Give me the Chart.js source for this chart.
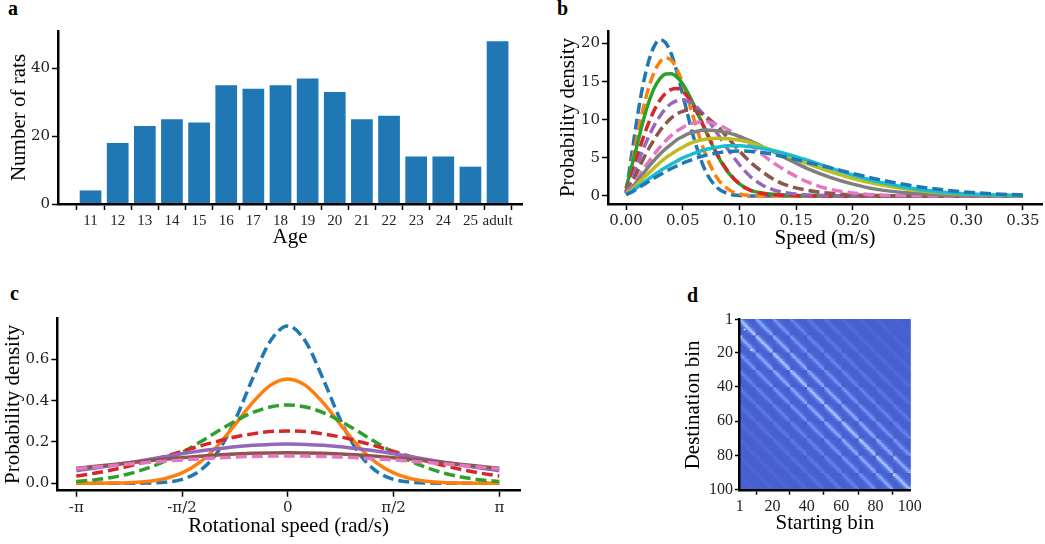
<!DOCTYPE html>
<html lang="en">
<head>
<meta charset="UTF-8">
<title>Ages, speed and rotation distributions, bin transitions</title>
<script src="https://cdn.jsdelivr.net/npm/chart.js"></script>
<style>
  body { margin: 0; background: #fff; width: 1045px; height: 544px; position: relative; overflow: hidden; }
  canvas { position: absolute; }
  .tag { position: absolute; font: bold 20px 'Liberation Serif', serif; line-height: 20px; color: #000; }
</style>
</head>
<body>

<div class="tag" style="left:8px;top:-2px">a</div>
<div class="tag" style="left:557px;top:-2px">b</div>
<div class="tag" style="left:10px;top:283px">c</div>
<div class="tag" style="left:687px;top:285px">d</div>

<canvas id="ages" width="530" height="260" style="left:0;top:0"></canvas>
<canvas id="speed" width="505" height="260" style="left:540px;top:0"></canvas>
<canvas id="rotation" width="540" height="264" style="left:0;top:280px"></canvas>
<canvas id="transitions" width="260" height="264" style="left:670px;top:280px"></canvas>

<script>
// ---- panel a: rats per age ----
const ageLabels = ['11','12','13','14','15','16','17','18','19','20','21','22','23','24','25','adult'];
const ratCounts = [4, 18, 23, 25, 24, 35, 34, 35, 37, 33, 25, 26, 14, 14, 11, 48];
const ratTicks = [0, 20, 40];

// ---- panel b: speed densities ----
const speedX = [0, 0.005, 0.01, 0.015, 0.02, 0.025, 0.03, 0.035, 0.04, 0.045, 0.05, 0.055, 0.06, 0.07, 0.08,
                0.09, 0.10, 0.11, 0.12, 0.13, 0.14, 0.16, 0.18, 0.20, 0.22, 0.25, 0.28, 0.31, 0.35];
const speedBlue   = [0.4, 5.4, 10.4, 14.6, 17.7, 19.7, 20.5, 20.1, 18.6, 16.2, 13.3, 10.3, 7.5, 3.3, 1.15, 0.31, 0.07, 0.01, 0, 0, 0, 0, 0, 0, 0, 0, 0, 0, 0];
const speedOrange = [0.4, 4.1, 8.0, 11.4, 14.2, 16.3, 17.6, 18.1, 17.8, 16.6, 14.8, 12.5, 10.0, 5.5, 2.45, 0.89, 0.26, 0.06, 0.01, 0, 0, 0, 0, 0, 0, 0, 0, 0, 0];
const speedGreen  = [1.0, 3.9, 6.8, 9.8, 12.3, 14.2, 15.4, 16.0, 16.05, 15.6, 14.7, 13.4, 11.9, 8.6, 5.5, 3.1, 1.6, 0.75, 0.4, 0.22, 0.13, 0.05, 0.02, 0.01, 0, 0, 0, 0, 0];
const speedRed    = [0.5, 2.7, 5.2, 7.6, 9.6, 11.3, 12.6, 13.5, 14.0, 14.1, 13.7, 12.9, 11.7, 8.7, 5.6, 3.2, 1.6, 0.72, 0.33, 0.15, 0.07, 0.02, 0, 0, 0, 0, 0, 0, 0];
const speedPurple = [0.5, 2.1, 4.15, 6.1, 7.8, 9.3, 10.5, 11.5, 12.15, 12.5, 12.6, 12.4, 12.0, 10.4, 8.3, 6.1, 4.1, 2.5, 1.45, 0.8, 0.45, 0.13, 0.04, 0.01, 0, 0, 0, 0, 0];
const speedBrown  = [0.4, 1.6, 3.2, 4.8, 6.2, 7.45, 8.6, 9.5, 10.25, 10.8, 11.1, 11.3, 11.25, 10.5, 9.2, 7.6, 5.9, 4.4, 3.2, 2.2, 1.5, 0.75, 0.35, 0.15, 0.07, 0.02, 0, 0, 0];
const speedPink   = [0.4, 1.2, 2.3, 3.5, 4.5, 5.5, 6.4, 7.25, 7.95, 8.55, 9.0, 9.4, 9.6, 9.73, 9.4, 8.7, 7.7, 6.6, 5.45, 4.35, 3.4, 1.85, 0.88, 0.4, 0.15, 0.04, 0.01, 0, 0];
const speedGrey   = [0.3, 1.0, 2.0, 2.9, 3.85, 4.7, 5.5, 6.2, 6.8, 7.4, 7.8, 8.2, 8.4, 8.66, 8.57, 8.28, 7.82, 7.2, 6.5, 5.8, 5.04, 3.6, 2.45, 1.56, 0.9, 0.39, 0.13, 0.04, 0.01];
const speedOlive  = [0.3, 0.8, 1.55, 2.3, 3.0, 3.7, 4.4, 5.0, 5.5, 6.0, 6.4, 6.8, 7.1, 7.45, 7.57, 7.5, 7.3, 7.0, 6.45, 5.95, 5.4, 4.25, 3.2, 2.3, 1.6, 0.85, 0.4, 0.18, 0.05];
const speedCyan   = [0.2, 0.6, 1.15, 1.7, 2.25, 2.75, 3.3, 3.75, 4.2, 4.6, 5.0, 5.3, 5.6, 6.1, 6.4, 6.58, 6.58, 6.45, 6.25, 5.95, 5.6, 4.7, 3.7, 2.75, 1.95, 1.05, 0.5, 0.22, 0.06];
const speedBlue2  = [0.2, 0.5, 0.97, 1.45, 1.9, 2.36, 2.8, 3.2, 3.6, 3.95, 4.3, 4.6, 4.87, 5.33, 5.65, 5.84, 5.9, 5.85, 5.7, 5.45, 5.15, 4.4, 3.7, 2.95, 2.25, 1.4, 0.8, 0.4, 0.12];
const speedTicks = [0, 0.05, 0.10, 0.15, 0.20, 0.25, 0.30, 0.35];
const speedDensityTicks = [0, 5, 10, 15, 20];

// ---- panel c: rotational speed densities (x in steps of pi/12) ----
const rotSteps = [-12, -11, -10, -9, -8, -7, -6, -5, -4, -3, -2, -1, 0, 1, 2, 3, 4, 5, 6, 7, 8, 9, 10, 11, 12];
const rotBlue   = [0, 0, 0, 0, 0.001, 0.005, 0.019, 0.060, 0.149, 0.304, 0.506, 0.687, 0.761, 0.687, 0.506, 0.304, 0.149, 0.060, 0.019, 0.005, 0.001, 0, 0, 0, 0];
const rotOrange = [0, 0, 0.001, 0.003, 0.008, 0.022, 0.050, 0.101, 0.180, 0.283, 0.390, 0.474, 0.505, 0.474, 0.390, 0.283, 0.180, 0.101, 0.050, 0.022, 0.008, 0.003, 0.001, 0, 0];
const rotGreen  = [0.009, 0.016, 0.028, 0.046, 0.072, 0.106, 0.149, 0.198, 0.250, 0.300, 0.342, 0.369, 0.379, 0.369, 0.342, 0.300, 0.250, 0.198, 0.149, 0.106, 0.072, 0.046, 0.028, 0.016, 0.009];
const rotRed    = [0.035, 0.048, 0.064, 0.083, 0.105, 0.129, 0.154, 0.180, 0.203, 0.224, 0.239, 0.250, 0.253, 0.250, 0.239, 0.224, 0.203, 0.180, 0.154, 0.129, 0.105, 0.083, 0.064, 0.048, 0.035];
const rotPurple = [0.061, 0.073, 0.086, 0.100, 0.114, 0.129, 0.143, 0.156, 0.167, 0.177, 0.184, 0.188, 0.190, 0.188, 0.184, 0.177, 0.167, 0.156, 0.143, 0.129, 0.114, 0.100, 0.086, 0.073, 0.061];
const rotBrown  = [0.0725, 0.081, 0.090, 0.099, 0.108, 0.116, 0.124, 0.131, 0.137, 0.1415, 0.145, 0.147, 0.148, 0.147, 0.145, 0.1415, 0.137, 0.131, 0.124, 0.116, 0.108, 0.099, 0.090, 0.081, 0.0725];
const rotPink   = [0.070, 0.078, 0.085, 0.093, 0.100, 0.1065, 0.113, 0.118, 0.123, 0.127, 0.130, 0.1314, 0.132, 0.1314, 0.130, 0.127, 0.123, 0.118, 0.113, 0.1065, 0.100, 0.093, 0.085, 0.078, 0.070];
const rotTickLabels = ['-π', '-π/2', '0', 'π/2', 'π'];
const rotTickSteps = [-12, -6, 0, 6, 12];
const rotDensityTicks = [0, 0.2, 0.4, 0.6];

// ---- panel d: transition matrix, 100 bins in 10x10 blocks ----
const binCount = 100;
const blockSize = 10;
const heatBase = 0.045;
const blockLevels = [0.32, 0.22, 0.15, 0.10, 0.07, 0.05, 0.035, 0.025, 0.018, 0.012]; // by block distance
const stripeLevels = [1, 0.55, 0.18, 0.06, 0.02, 0.01, 0, 0, 0, 0];                    // by offset inside block
const hotCells = [[1, 1, 0.55], [4, 7, 0.5], [9, 9, 0.58], [10, 10, 0.5], [2, 11, 0.55], [8, 19, 0.55],
                  [21, 21, 0.5], [72, 72, 0.55], [82, 82, 0.58], [92, 82, 0.55], [91, 92, 0.6], [100, 100, 0.55]];
const binTicks = [1, 20, 40, 60, 80, 100];

const tab = ['#1f77b4', '#ff7f0e', '#2ca02c', '#d62728', '#9467bd', '#8c564b', '#e377c2', '#7f7f7f', '#bcbd22', '#17becf'];

Chart.defaults.animation = false;
Chart.defaults.responsive = false;
Chart.defaults.events = [];
Chart.defaults.plugins.legend.display = false;
Chart.defaults.plugins.tooltip.enabled = false;
Chart.defaults.color = '#000';
Chart.defaults.font.family = "'Liberation Serif', serif";

const numFont = { family: "'DejaVu Serif', serif", size: 15 };
const titleFont = { family: "'Liberation Serif', serif", size: 21 };

function axis({min, max, ticks, label, fmt, size, titlePad, tickFont, tickLen, reverse}) {
  return {
    type: 'linear', min, max, reverse: !!reverse, offset: false,
    grid: { display: true, drawOnChartArea: false, tickLength: tickLen || 6, tickWidth: 1.5, tickColor: '#000' },
    border: { display: true, color: '#000', width: 2.5, z: 1 },
    ticks: { color: '#222', padding: 2, autoSkip: false, maxRotation: 0, font: tickFont || numFont, callback: fmt },
    title: { display: true, text: label, font: titleFont, color: '#000', padding: titlePad },
    afterBuildTicks: s => { s.ticks = ticks.map(v => ({ value: v })); },
    afterFit: s => { if (s.isHorizontal()) s.height = size; else s.width = size; }
  };
}

function curve(xs, ys, color, dashed, i) {
  return {
    data: xs.map((x, k) => ({ x, y: ys[k] })),
    borderColor: color, borderWidth: 3.5, borderDash: dashed ? [11, 5] : [],
    pointRadius: 0, cubicInterpolationMode: 'monotone', fill: false, order: -i
  };
}

// panel a
new Chart(document.getElementById('ages'), {
  type: 'bar',
  data: { datasets: [{ data: ratCounts.map((v, i) => ({ x: i, y: v })), backgroundColor: '#1f77b4',
                       barPercentage: 0.8, categoryPercentage: 1 }] },
  options: {
    layout: { padding: { left: 0, top: 31, right: 8, bottom: 0 } },
    scales: {
      x: axis({ min: -1.2, max: 15.9, ticks: ageLabels.map((_, i) => i), label: 'Age', fmt: v => ageLabels[v],
                size: 56, titlePad: { top: 0, bottom: 10 }, tickFont: { family: "'Liberation Serif', serif", size: 15 } }),
      y: axis({ min: 0, max: 51, ticks: ratTicks, label: 'Number of rats', fmt: v => String(v),
                size: 58, titlePad: { top: 7, bottom: 0 } })
    }
  }
});

// panel b
const speedSeries = [
  [speedBlue, 0, true], [speedOrange, 1, true], [speedGreen, 2, false], [speedRed, 3, true],
  [speedPurple, 4, true], [speedBrown, 5, true], [speedPink, 6, true], [speedGrey, 7, false],
  [speedOlive, 8, false], [speedCyan, 9, false], [speedBlue2, 0, true]
];
new Chart(document.getElementById('speed'), {
  type: 'line',
  data: { datasets: speedSeries.map(([ys, c, dashed], i) => curve(speedX, ys, tab[c], dashed, i)) },
  options: {
    layout: { padding: { left: 0, top: 31, right: 3, bottom: 0 } },
    scales: {
      x: axis({ min: -0.0159, max: 0.3668, ticks: speedTicks, label: 'Speed (m/s)', fmt: v => v.toFixed(2),
                size: 56, titlePad: { top: 0, bottom: 9 } }),
      y: axis({ min: -1.05, max: 21.65, ticks: speedDensityTicks, label: 'Probability density', fmt: v => String(v),
                size: 68, titlePad: { top: 16, bottom: 0 } })
    }
  }
});

// panel c
const rotX = rotSteps.map(k => k * Math.PI / 12);
const rotSeries = [
  [rotBlue, 0, true], [rotOrange, 1, false], [rotGreen, 2, true], [rotRed, 3, true],
  [rotPurple, 4, false], [rotBrown, 5, false], [rotPink, 6, true]
];
new Chart(document.getElementById('rotation'), {
  type: 'line',
  data: { datasets: rotSeries.map(([ys, c, dashed], i) => curve(rotX, ys, tab[c], dashed, i)) },
  options: {
    layout: { padding: { left: 0, top: 38, right: 20, bottom: 0 } },
    scales: {
      x: axis({ min: -3.424, max: 3.449, ticks: rotTickSteps.map(k => k * Math.PI / 12), label: 'Rotational speed (rad/s)',
                fmt: (v, i) => rotTickLabels[i], size: 53.3, titlePad: { top: 0, bottom: 4.7 } }),
      y: axis({ min: -0.036, max: 0.80, ticks: rotDensityTicks, label: 'Probability density', fmt: v => v.toFixed(1),
                size: 57.3, titlePad: { top: 0.5, bottom: 0 } })
    }
  }
});

// panel d
const coolwarmStops = [
  [0.0, 59, 76, 192], [0.0625, 77, 104, 215], [0.125, 98, 130, 234], [0.1875, 119, 154, 247],
  [0.25, 141, 176, 254], [0.3125, 163, 194, 255], [0.375, 184, 208, 249], [0.4375, 204, 217, 238],
  [0.5, 221, 221, 221], [0.5625, 236, 211, 197], [0.625, 245, 196, 173], [0.6875, 247, 177, 148],
  [0.75, 244, 154, 123], [1.0, 180, 4, 38]
];
function coolwarm(v) {
  v = Math.max(0, Math.min(1, v));
  for (let k = 1; k < coolwarmStops.length; k++) {
    const a = coolwarmStops[k - 1], b = coolwarmStops[k];
    if (v <= b[0]) {
      const t = (v - a[0]) / (b[0] - a[0]);
      const c = [1, 2, 3].map(j => Math.round(a[j] + t * (b[j] - a[j])));
      return `rgb(${c[0]},${c[1]},${c[2]})`;
    }
  }
  return 'rgb(180,4,38)';
}
// one floating bar per cell: x = starting bin, y spans the destination bin
const heatCells = [], heatColors = [];
for (let dest = 1; dest <= binCount; dest++) {
  for (let start = 1; start <= binCount; start++) {
    const bd = Math.abs(Math.floor((dest - 1) / blockSize) - Math.floor((start - 1) / blockSize));
    const sd = Math.abs((dest - 1) % blockSize - (start - 1) % blockSize);
    heatCells.push({ x: start, y: [dest - 0.5, dest + 0.5] });
    heatColors.push(coolwarm(heatBase + blockLevels[bd] * stripeLevels[sd]));
  }
}
hotCells.forEach(([s, d, v]) => { heatColors[(d - 1) * binCount + (s - 1)] = coolwarm(v); });

new Chart(document.getElementById('transitions'), {
  type: 'bar',
  data: { datasets: [{ data: heatCells, backgroundColor: heatColors, borderWidth: 0, grouped: false,
                       barPercentage: 1, categoryPercentage: 1, inflateAmount: 0.6 }] },
  options: {
    layout: { padding: { left: 0, top: 39, right: 19.3, bottom: 0 } },
    scales: {
      x: axis({ min: 0.5, max: 100.5, ticks: binTicks, label: 'Starting bin', fmt: v => String(v), size: 53.3,
                titlePad: { top: 0, bottom: 8 }, tickLen: 4, tickFont: { family: "'Liberation Serif', serif", size: 16 } }),
      y: axis({ min: 0.5, max: 100.5, reverse: true, ticks: binTicks, label: 'Destination bin', fmt: v => String(v),
                size: 69, titlePad: { top: 10.7, bottom: 0 }, tickLen: 4, tickFont: { family: "'Liberation Serif', serif", size: 16 } })
    }
  }
});
</script>
</body>
</html>
